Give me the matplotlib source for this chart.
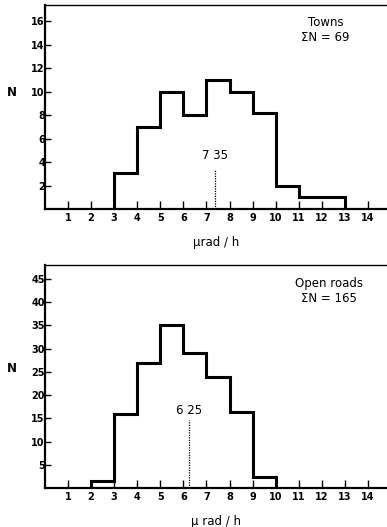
# histogram of dose rates, towns vs open roads

import numpy as np
import matplotlib.pyplot as plt

# Data

towns_edges = [3, 4, 5, 6, 7, 8, 9, 10, 11, 12, 13]
towns_counts = [3.1, 7, 10, 8, 11, 10, 8.2, 2, 1, 1]
towns_mean = 7.35

roads_edges = [2, 3, 4, 5, 6, 7, 8, 9, 10]
roads_counts = [1.6, 16, 27, 35, 29, 24, 16.3, 2.4]
roads_mean = 6.25

x_ticks = list(range(1, 15))
towns_yticks = [2, 4, 6, 8, 10, 12, 14, 16]
roads_yticks = [5, 10, 15, 20, 25, 30, 35, 40, 45]

plt.rcParams["font.family"] = "DejaVu Sans"

fig = plt.figure(figsize=(3.87, 5.27), dpi=100)
ax1 = fig.add_axes([0.116, 0.6034, 0.884, 0.387])
ax2 = fig.add_axes([0.116, 0.074, 0.884, 0.423])


def style(ax, ymax, yticks):
    ax.set_xlim(0, 14.82)
    ax.set_ylim(0, ymax)
    ax.set_xticks(x_ticks)
    ax.set_yticks(yticks)
    ax.tick_params(axis="x", direction="in", length=6, width=1.0,
                   labelsize=7, pad=3)
    ax.tick_params(axis="y", direction="in", length=4, width=1.0,
                   labelsize=7, pad=0)
    ax.spines["right"].set_visible(False)
    ax.spines["left"].set_linewidth(1.6)
    ax.spines["bottom"].set_linewidth(1.6)
    ax.spines["top"].set_linewidth(1.0)
    for lab in ax.get_xticklabels() + ax.get_yticklabels():
        lab.set_fontweight("bold")


# Towns

ax1.stairs(towns_counts, towns_edges, baseline=0, color="black",
           linewidth=2.2)
ax1.plot([towns_mean, towns_mean], [0, 3.4], color="black",
         linestyle=(0, (1, 1)), linewidth=0.9)
ax1.text(towns_mean, 4.0, "7 35", ha="center", va="bottom", fontsize=8.5)
ax1.text(0.82, 0.945, "Towns\n\u03a3N = 69", transform=ax1.transAxes,
         ha="center", va="top", fontsize=8.5, linespacing=1.2)
ax1.set_xlabel("\u03bcrad / h", fontsize=8.5, labelpad=9)
style(ax1, 17.4, towns_yticks)
fig.text(0.031, 1 - 93 / 527, "N", fontsize=8.5, fontweight="bold",
         ha="center", va="center")

# Open roads

ax2.stairs(roads_counts, roads_edges, baseline=0, color="black",
           linewidth=2.2)
ax2.plot([roads_mean, roads_mean], [0, 14.6], color="black",
         linestyle=(0, (1, 1)), linewidth=0.9)
ax2.text(roads_mean, 15.2, "6 25", ha="center", va="bottom", fontsize=8.5)
ax2.text(0.83, 0.945, "Open roads\n\u03a3N = 165", transform=ax2.transAxes,
         ha="center", va="top", fontsize=8.5, linespacing=1.2)
ax2.set_xlabel("\u03bc rad / h", fontsize=8.5, labelpad=9)
style(ax2, 48, roads_yticks)
fig.text(0.031, 1 - 368 / 527, "N", fontsize=8.5, fontweight="bold",
         ha="center", va="center")

plt.savefig("out.png", dpi=100)
